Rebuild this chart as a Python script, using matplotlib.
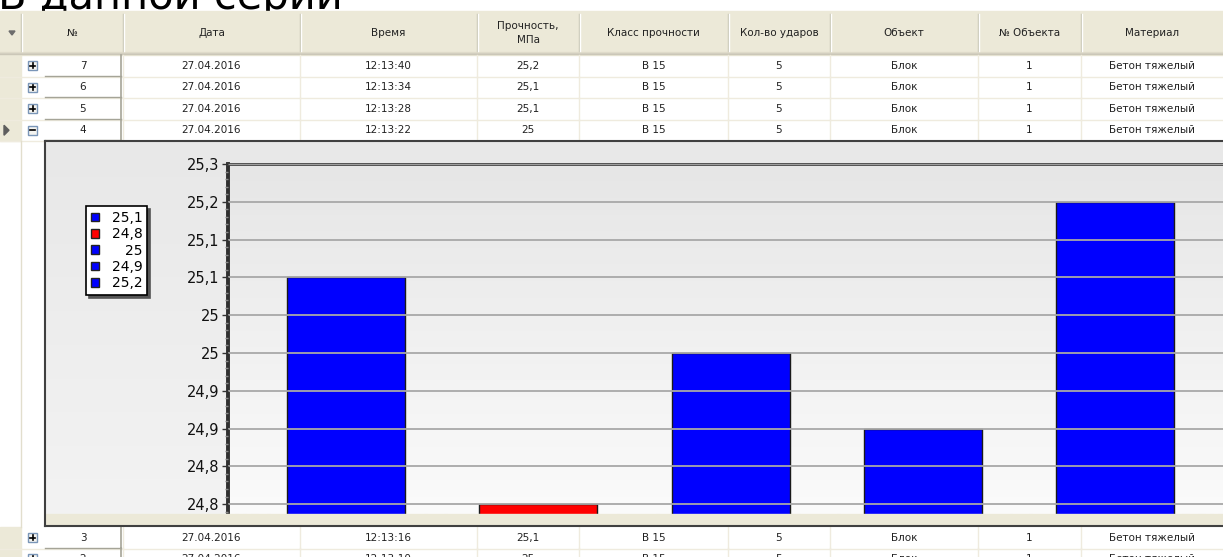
import numpy as np
import matplotlib.pyplot as plt
from matplotlib.patches import Rectangle, Polygon
from matplotlib.colors import LinearSegmentedColormap
from matplotlib.ticker import FixedLocator, MultipleLocator

# strength readings of series #4 (МПа)
values = [25.1, 24.8, 25.0, 24.9, 25.2]
bar_colors = ['#0000FF', '#FF0000', '#0000FF', '#0000FF', '#0000FF']

y_ticks = [24.80, 24.85, 24.90, 24.95, 25.00, 25.05, 25.10, 25.15, 25.20, 25.25]
y_labels = ['24,8', '24,8', '24,9', '24,9', '25', '25', '25,1', '25,1', '25,2', '25,3']

headers = ['', '№', 'Дата', 'Время', 'Прочность,\nМПа', 'Класс прочности',
           'Кол-во ударов', 'Объект', '№ Объекта', 'Материал']
col_edges = [0, 21, 123, 300, 477, 579, 728, 830, 978, 1081, 1223]

rows_top = [
    ['7', '27.04.2016', '12:13:40', '25,2', 'В 15', '5', 'Блок', '1', 'Бетон тяжелый'],
    ['6', '27.04.2016', '12:13:34', '25,1', 'В 15', '5', 'Блок', '1', 'Бетон тяжелый'],
    ['5', '27.04.2016', '12:13:28', '25,1', 'В 15', '5', 'Блок', '1', 'Бетон тяжелый'],
    ['4', '27.04.2016', '12:13:22', '25', 'В 15', '5', 'Блок', '1', 'Бетон тяжелый'],
]
rows_bottom = [
    ['3', '27.04.2016', '12:13:16', '25,1', 'В 15', '5', 'Блок', '1', 'Бетон тяжелый'],
    ['2', '27.04.2016', '12:13:10', '25', 'В 15', '5', 'Блок', '1', 'Бетон тяжелый'],
]
expanded = '4'

W, H = 1223, 557
BEIGE = '#ECE9D8'
LINE = '#EFEBDE'


def box(x, y, w, h):
    return [x / W, 1 - (y + h) / H, w / W, h / H]


fig = plt.figure(figsize=(W / 100, H / 100), dpi=100)
fig.patch.set_facecolor('white')

ui = fig.add_axes([0, 0, 1, 1], zorder=0)
ui.set_xlim(0, W)
ui.set_ylim(H, 0)
ui.axis('off')

ui.text(-2, 9, 'В данной серии', fontsize=30, va='baseline', ha='left', color='black', zorder=1)

# header
ui.add_patch(Rectangle((0, 11), W, 44, color=BEIGE, zorder=2))
for i, c in enumerate(['#E2DECD', '#D6D2C2', '#CBC7B8']):
    ui.plot([0, W], [52 + i, 52 + i], color=c, lw=1, zorder=3)
for x in col_edges[1:-1]:
    ui.plot([x, x], [14, 51], color='#C7C5B2', lw=1, zorder=3)
    ui.plot([x + 1, x + 1], [14, 51], color='white', lw=1, zorder=3)
ui.add_patch(Polygon([[9, 31], [15, 31], [12, 35]], closed=True, color='#6D6D6D', zorder=4))
for i, h in enumerate(headers):
    if h:
        ui.text((col_edges[i] + col_edges[i + 1]) / 2, 33, h, ha='center', va='center',
                fontsize=7.5, color='#222222', linespacing=1.5, zorder=4)


def draw_row(vals, top, h=21.5):
    ui.add_patch(Rectangle((0, top), 21, h, color=BEIGE, zorder=2))
    ui.plot([0, W], [top + h, top + h], color=LINE, lw=1, zorder=3)
    for x in col_edges[2:-1]:
        ui.plot([x, x], [top, top + h], color=LINE, lw=1, zorder=3)
    # raised number cell
    ui.plot([45, 121], [top + h - 1, top + h - 1], color='#A5A497', lw=1, zorder=3)
    ui.plot([121, 121], [top, top + h - 1], color='#A5A497', lw=1.2, zorder=3)
    # expand button
    cy = top + h / 2
    ui.add_patch(Rectangle((28, cy - 4.5), 9, 9, facecolor='#F4F4F0', edgecolor='#7A96B8',
                           lw=1, zorder=4))
    ui.plot([30, 35], [cy, cy], color='black', lw=1.2, zorder=5)
    if vals[0] == expanded:
        ui.add_patch(Polygon([[4, cy - 5], [4, cy + 5], [9, cy]], closed=True,
                             color='#5E5E5E', zorder=4))
    else:
        ui.plot([32.5, 32.5], [cy - 2.5, cy + 2.5], color='black', lw=1.2, zorder=5)
    ui.text(83, cy, vals[0], ha='center', va='center', fontsize=7.5, color='#222222', zorder=4)
    for j, v in enumerate(vals[1:], start=2):
        ui.text((col_edges[j] + col_edges[j + 1]) / 2, cy, v, ha='center', va='center',
                fontsize=7.5, color='#222222', zorder=4)


for k, r in enumerate(rows_top):
    draw_row(r, 55 + k * 21.5)
for k, r in enumerate(rows_bottom):
    draw_row(r, 527 + k * 21)

# area left of the chart panel
ui.plot([21, 21], [141, 527], color='#E2DECD', lw=1, zorder=3)

# chart panel background
panel = fig.add_axes(box(46, 142, W - 46 + 5, 372), zorder=1)
panel.axis('off')
cm_panel = LinearSegmentedColormap.from_list('p', ['#E8E8E8', '#F3F3F3'])
panel.imshow(np.linspace(0, 1, 256).reshape(-1, 1), cmap=cm_panel, aspect='auto',
             extent=[0, 1, 0, 1], origin='upper')

ov = fig.add_axes([0, 0, 1, 1], zorder=3)
ov.set_xlim(0, W)
ov.set_ylim(H, 0)
ov.axis('off')
ov.add_patch(Rectangle((46, 514), W, 11, color=BEIGE, zorder=1))
ov.plot([45, W], [141, 141], color='#404040', lw=1.5)
ov.plot([45, 45], [141, 526], color='#404040', lw=1.5)
ov.plot([45, W], [525.5, 525.5], color='#404040', lw=1.5)

# bar chart
ax = fig.add_axes(box(228, 164, 1006, 350), zorder=2)
ax.patch.set_alpha(0)
cm_plot = LinearSegmentedColormap.from_list('a', ['#E6E6E6', '#FBFBFB'])
ax.imshow(np.linspace(0, 1, 256).reshape(-1, 1), cmap=cm_plot, aspect='auto',
          extent=[0, 1, 0, 1], origin='upper', transform=ax.transAxes, zorder=0)

x = np.arange(len(values))
bars = ax.bar(x, values, width=0.614, color=bar_colors, edgecolor='#1A1A1A', lw=1, zorder=1)
ax.set_xlim(-0.614, 4.619)
ax.set_ylim(24.787, 25.25)

ax.yaxis.set_major_locator(FixedLocator(y_ticks))
ax.set_yticklabels(y_labels)
ax.yaxis.set_minor_locator(MultipleLocator(0.01))
ax.set_axisbelow(False)
ax.yaxis.grid(True, which='major', color='#A8A8A8', lw=1.3)
ax.tick_params(axis='y', which='major', length=4, width=1, color='#333333',
               labelsize=10.5, pad=2, labelcolor='#111111')
ax.tick_params(axis='y', which='minor', length=2, width=1, color='#8A8A8A')
ax.tick_params(axis='x', bottom=False, labelbottom=False)
for s in ['right', 'bottom']:
    ax.spines[s].set_visible(False)
ax.spines['left'].set_linewidth(2.8)
ax.spines['left'].set_color('#303030')
ax.spines['top'].set_linewidth(2)
ax.spines['top'].set_color('#454545')

labels = [f'{v:g}'.replace('.', ',') for v in values]
leg = ax.legend(bars, labels, loc='upper left', bbox_to_anchor=(86 / W, 1 - 206 / H),
                bbox_transform=fig.transFigure, borderaxespad=0, frameon=True,
                fancybox=False, shadow={'color': '#555555', 'alpha': 1},
                edgecolor='black', facecolor='white', framealpha=1,
                fontsize=10, handlelength=0.6, handleheight=0.6, handletextpad=0.9,
                labelspacing=0.17, borderpad=0.35)
leg.get_frame().set_linewidth(1.2)
for p in leg.get_patches():
    p.set_edgecolor('#222222')

# right-align legend numbers
renderer = fig.canvas.get_renderer()
widths = [t.get_window_extent(renderer).width for t in leg.get_texts()]
shift = max(widths)
for t, w in zip(leg.get_texts(), widths):
    t.set_position((shift - w, 0))

fig.savefig('out.png', dpi=100)
